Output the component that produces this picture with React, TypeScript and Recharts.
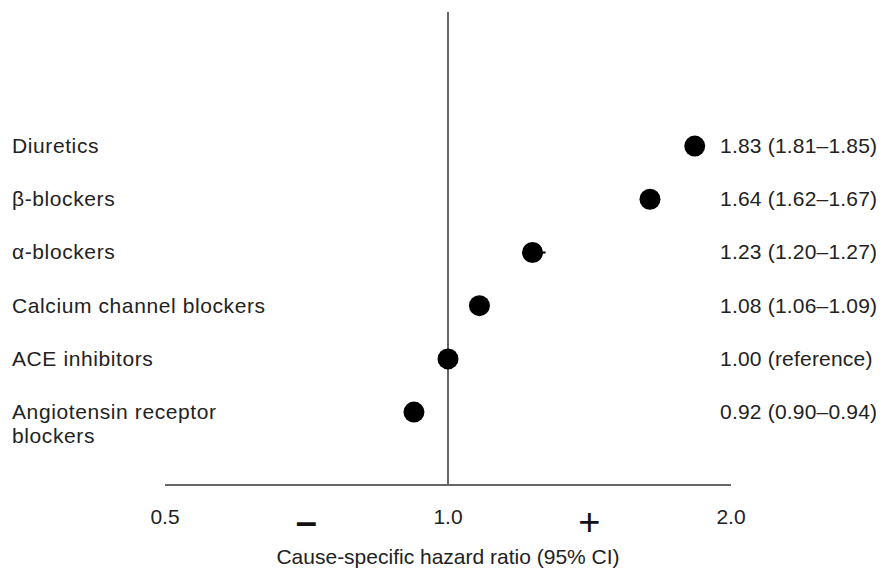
import React from 'react';
import { ScatterChart, Scatter, XAxis, YAxis, ReferenceLine, ErrorBar, LabelList } from 'recharts';

const drugClasses = [
  'Diuretics',
  'β-blockers',
  'α-blockers',
  'Calcium channel blockers',
  'ACE inhibitors',
  'Angiotensin receptor\nblockers',
];
const hazardRatios = [1.83, 1.64, 1.23, 1.08, 1.0, 0.92];
const ciLow = [1.81, 1.62, 1.2, 1.06, 1.0, 0.9];
const ciHigh = [1.85, 1.67, 1.27, 1.09, 1.0, 0.94];
const isReference = [false, false, false, false, true, false];

const xTicks = [0.5, 1.0, 2.0];
// geometric midpoints where the "−" / "+" signs sit
const signTicks = [0.707, 1.414];
const signLabels = ['–', '+'];

const W = 882;
const H = 571;
const FONT = '"Liberation Sans", Arial, Helvetica, sans-serif';
const margin = { top: 12, right: 151, left: 0, bottom: 0 };

const rows = drugClasses.map((name, i) => ({
  name,
  row: i,
  hr: hazardRatios[i],
  err: [hazardRatios[i] - ciLow[i], ciHigh[i] - hazardRatios[i]],
  text: isReference[i]
    ? `${hazardRatios[i].toFixed(2)} (reference)`
    : `${hazardRatios[i].toFixed(2)} (${ciLow[i].toFixed(2)}–${ciHigh[i].toFixed(2)})`,
}));

function XTick(props: any) {
  const { x, y, payload } = props;
  const si = signTicks.indexOf(payload.value);
  if (si >= 0) {
    return (
      <text
        x={x}
        y={y + 42}
        textAnchor="middle"
        fontFamily={FONT}
        fontSize={38}
        fontWeight={si === 0 ? 'bold' : 'normal'}
        fill="#111"
      >
        {signLabels[si]}
      </text>
    );
  }
  return (
    <text x={x} y={y + 31} textAnchor="middle" fontFamily={FONT} fontSize={21} fill="#222">
      {payload.value.toFixed(1)}
    </text>
  );
}

function YTick(props: any) {
  const { y, payload } = props;
  const lines = drugClasses[payload.value].split('\n');
  return (
    <text x={12} y={y} fontFamily={FONT} fontSize={21} letterSpacing={0.6} fill="#222" textAnchor="start">
      {lines.map((l, i) => (
        <tspan key={i} x={12} dy={i === 0 ? 7 : 24}>
          {l}
        </tspan>
      ))}
    </text>
  );
}

function RightLabel(props: any) {
  const { y, height, index } = props;
  return (
    <text
      x={W - margin.right - 11}
      y={y + height / 2 + 7}
      fontFamily={FONT}
      fontSize={21}
      letterSpacing={0.2}
      fill="#222"
      textAnchor="start"
    >
      {rows[index].text}
    </text>
  );
}

const Dot = (props: any) => <circle cx={props.cx} cy={props.cy} r={10.5} fill="#000" />;

export default function App() {
  return (
    <div style={{ position: 'absolute', left: 0, top: 0, width: W, height: H, background: '#fff' }}>
      <ScatterChart width={W} height={H} margin={margin}>
        <XAxis
          type="number"
          dataKey="hr"
          scale="log"
          domain={[0.5, 2]}
          allowDataOverflow
          ticks={[...xTicks, ...signTicks].sort((a, b) => a - b)}
          interval={0}
          tick={<XTick />}
          tickLine={false}
          axisLine={{ stroke: '#666', strokeWidth: 2 }}
          height={86}
          label={{
            value: 'Cause-specific hazard ratio (95% CI)',
            position: 'insideBottom',
            offset: 7,
            style: { fontFamily: FONT, fontSize: 21, fill: '#222' },
          }}
        />
        <YAxis
          type="number"
          dataKey="row"
          domain={[-2.52, 6.37]}
          reversed
          ticks={[0, 1, 2, 3, 4, 5]}
          interval={0}
          width={165}
          tick={<YTick />}
          tickLine={false}
          axisLine={false}
        />
        <ReferenceLine x={1} stroke="#666" strokeWidth={2} />
        <Scatter data={rows} shape={<Dot />} isAnimationActive={false}>
          <ErrorBar dataKey="err" direction="x" width={0} stroke="#000" strokeWidth={2} />
          <LabelList dataKey="text" content={<RightLabel />} />
        </Scatter>
      </ScatterChart>
    </div>
  );
}
